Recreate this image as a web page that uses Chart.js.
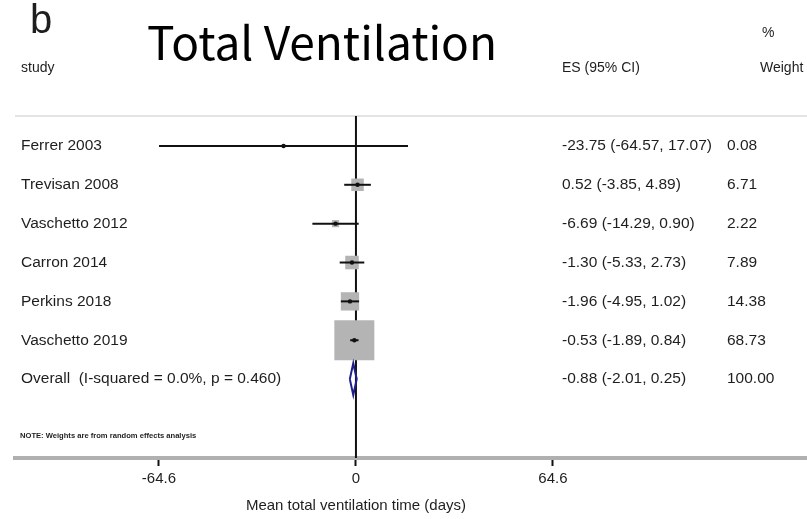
<!DOCTYPE html>
<html>
<head>
<meta charset="utf-8">
<script src="https://cdn.jsdelivr.net/npm/chart.js@4.4.0/dist/chart.umd.min.js"></script>
<style>
  html, body { margin: 0; padding: 0; background: #fff; }
  #wrap { width: 807px; height: 519px; position: relative; }
</style>
</head>
<body>
<div id="wrap"><canvas id="forest"></canvas></div>
<script>
// data
const studies = ['Ferrer 2003', 'Trevisan 2008', 'Vaschetto 2012', 'Carron 2014', 'Perkins 2018', 'Vaschetto 2019'];
const es = [-23.75, 0.52, -6.69, -1.30, -1.96, -0.53];
const ciLow = [-64.57, -3.85, -14.29, -5.33, -4.95, -1.89];
const ciHigh = [17.07, 4.89, 0.90, 2.73, 1.02, 0.84];
const weights = [0.08, 6.71, 2.22, 7.89, 14.38, 68.73];
const overallLabel = 'Overall  (I-squared = 0.0%, p = 0.460)';
const overallEs = -0.88, overallLow = -2.01, overallHigh = 0.25, overallWeight = 100.00;
const xTicks = [-64.6, 0, 64.6];
const xTitle = 'Mean total ventilation time (days)';

const X_MIN = -111.8, X_MAX = 147.9;
const Y_MIN = -0.77, Y_MAX = 8.03;
const overallRow = studies.length;
const TXT = '#1e1e1e';
const FONT = '"Liberation Sans", Arial, sans-serif';

const fmt = v => v.toFixed(2);

// box side grows with sqrt(weight); biggest box ~40px
const maxW = Math.max(...weights);
const boxRadius = weights.map(w => (40 * Math.sqrt(w / maxW)) / Math.SQRT2);

const datasets = [];
datasets.push({
    data: [{ x: 0, y: Y_MIN }, { x: 0, y: Y_MAX }],
    showLine: true, borderColor: '#111', borderWidth: 2, pointRadius: 0, order: 10
});
datasets.push({
    data: es.map((v, i) => ({ x: v, y: i })),
    pointStyle: 'rect', pointRadius: boxRadius, backgroundColor: '#b4b4b4',
    borderWidth: 0, order: 9
});
studies.forEach((s, i) => {
    datasets.push({
        data: [{ x: ciLow[i], y: i }, { x: ciHigh[i], y: i }],
        showLine: true, borderColor: '#111', borderWidth: 2, pointRadius: 0, order: 5
    });
});
datasets.push({
    data: es.map((v, i) => ({ x: v, y: i })),
    pointStyle: 'circle', pointRadius: 2.2, backgroundColor: '#111', borderWidth: 0, order: 2
});
const dh = 0.41;
datasets.push({
    data: [
        { x: overallLow, y: overallRow },
        { x: overallEs, y: overallRow - dh },
        { x: overallHigh, y: overallRow },
        { x: overallEs, y: overallRow + dh },
        { x: overallLow, y: overallRow }
    ],
    showLine: true, borderColor: '#1f1f8a', borderWidth: 2, pointRadius: 0, order: 1
});

const textPlugin = {
    id: 'forestText',
    beforeDatasetsDraw(chart) {
        const { ctx, chartArea } = chart;
        ctx.save();
        ctx.strokeStyle = '#e4e4e4';
        ctx.lineWidth = 2;
        ctx.beginPath();
        ctx.moveTo(chartArea.left, chartArea.top);
        ctx.lineTo(chartArea.right, chartArea.top);
        ctx.stroke();
        ctx.restore();
    },
    afterDraw(chart) {
        const { ctx } = chart;
        const y = chart.scales.y;
        const x = chart.scales.x;
        ctx.save();
        ctx.fillStyle = TXT;
        ctx.textBaseline = 'alphabetic';
        ctx.textAlign = 'left';

        ctx.font = '40px ' + FONT;
        ctx.fillText('b', 30, 33);
        ctx.font = '46px "Noto Sans CJK KR", "Noto Sans", sans-serif';
        ctx.fillStyle = '#000';
        ctx.fillText('Total Ventilation', 147, 60);

        ctx.fillStyle = TXT;
        ctx.textBaseline = 'middle';
        ctx.font = '14px ' + FONT;
        ctx.fillText('study', 21, 68);
        ctx.fillText('ES (95% CI)', 562, 68);
        ctx.fillText('%', 762, 33);
        ctx.fillText('Weight', 760, 68);

        ctx.font = '15.5px ' + FONT;
        studies.forEach((s, i) => {
            const py = y.getPixelForValue(i);
            ctx.fillText(s, 21, py);
            ctx.fillText(`${fmt(es[i])} (${fmt(ciLow[i])}, ${fmt(ciHigh[i])})`, 562, py);
            ctx.fillText(fmt(weights[i]), 727, py);
        });
        const oy = y.getPixelForValue(overallRow);
        ctx.fillText(overallLabel, 21, oy);
        ctx.fillText(`${fmt(overallEs)} (${fmt(overallLow)}, ${fmt(overallHigh)})`, 562, oy);
        ctx.fillText(fmt(overallWeight), 727, oy);

        ctx.font = 'bold 7.6px ' + FONT;
        ctx.fillText('NOTE: Weights are from random effects analysis', 20, 436);

        // axis title is centred under the null line, not under the whole axis
        ctx.font = '15px ' + FONT;
        ctx.textAlign = 'center';
        ctx.fillText(xTitle, x.getPixelForValue(0), 506);
        ctx.restore();
    }
};

new Chart(document.getElementById('forest'), {
    type: 'scatter',
    data: { datasets },
    options: {
        responsive: true,
        maintainAspectRatio: false,
        animation: false,
        layout: { autoPadding: false, padding: { left: 15, right: 0, top: 116, bottom: 0 } },
        plugins: { legend: { display: false }, tooltip: { enabled: false } },
        scales: {
            x: {
                type: 'linear', min: X_MIN, max: X_MAX,
                afterBuildTicks: scale => { scale.ticks = xTicks.map(v => ({ value: v })); },
                afterFit: scale => { scale.height = 61; scale.paddingLeft = 0; scale.paddingRight = 0; },
                ticks: { color: TXT, font: { family: FONT, size: 15 }, padding: 4, callback: v => String(v) },
                grid: { drawOnChartArea: false, drawTicks: true, tickLength: 8, tickColor: '#111', tickWidth: 2 },
                border: { display: true, color: '#b0b0b0', width: 4 },
                title: { display: false }
            },
            y: { type: 'linear', reverse: true, min: Y_MIN, max: Y_MAX, display: false }
        }
    },
    plugins: [textPlugin]
});
</script>
</body>
</html>
